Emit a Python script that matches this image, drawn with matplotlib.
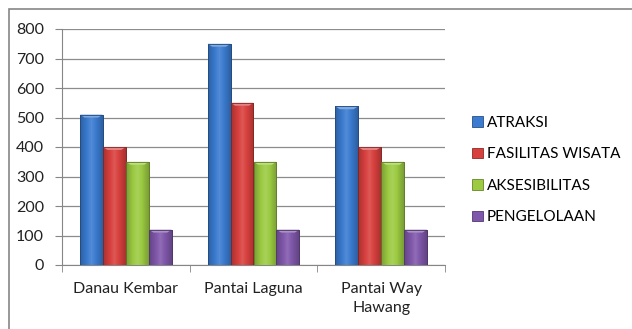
import numpy as np
import matplotlib.pyplot as plt
from matplotlib.patches import Rectangle
from matplotlib.colors import to_rgb

plt.rcParams['font.family'] = ['Lato', 'DejaVu Sans']

places = ["Danau Kembar", "Pantai Laguna", "Pantai Way\nHawang"]
series = ["ATRAKSI", "FASILITAS WISATA", "AKSESIBILITAS", "PENGELOLAAN"]
atraksi = [510, 750, 538]
fasilitas = [400, 550, 400]
aksesibilitas = [350, 350, 350]
pengelolaan = [120, 120, 120]
y_ticks = [0, 100, 200, 300, 400, 500, 600, 700, 800]

colors = ['#3b7bd0', '#d8403e', '#9ccb42', '#8058ab']
values = [atraksi, fasilitas, aksesibilitas, pengelolaan]


def shade(c, f):
    r = np.array(to_rgb(c))
    if f < 0:
        return tuple(r * (1 + f))
    return tuple(r + (1 - r) * f)


fig = plt.figure(figsize=(6.32, 3.29), dpi=100)
ax = fig.add_axes([62 / 632, 1 - 265 / 329, (445 - 62) / 632, (265 - 29) / 329])

# outer chart border
fig.patches.append(Rectangle((9 / 632, -0.2), 1.2, 1.2 - 9 / 329,
                             transform=fig.transFigure, fill=False,
                             edgecolor='#868686', linewidth=1.2))

x = np.arange(len(places))
w = 0.18
ax.set_xlim(-0.5, 2.5)
ax.set_ylim(0, 800)

grad = np.concatenate([np.linspace(-0.22, 0.12, 30), np.linspace(0.12, -0.22, 30)])
for i, (vals, c) in enumerate(zip(values, colors)):
    pos = x + (i - 1.5) * w
    bars = ax.bar(pos, vals, w, color=c, edgecolor=shade(c, -0.35),
                  linewidth=0.6, label=series[i], zorder=3)
    for b in bars:
        img = np.array([[shade(c, g) for g in grad]])
        bx, by = b.get_x(), b.get_y()
        im = ax.imshow(img, extent=[bx, bx + b.get_width(), by, by + b.get_height()],
                       aspect='auto', zorder=3.5, interpolation='bilinear')
        im.set_clip_path(b)
        # top bevel
        top = b.get_height()
        ax.fill([bx, bx + b.get_width(), bx + b.get_width() * 0.8, bx + b.get_width() * 0.2],
                [top, top, top - 10, top - 10], color=shade(c, 0.35), zorder=4, lw=0)
        ax.add_patch(Rectangle((bx, 0), b.get_width(), top, fill=False,
                               edgecolor=shade(c, -0.4), lw=0.6, zorder=4.5))

ax.set_yticks(y_ticks)
ax.yaxis.grid(True, color='#8c8c8c', linewidth=0.9, zorder=0)
ax.set_axisbelow(True)
ax.set_xticks(x)
ax.set_xticklabels(places, fontsize=11.5, color='#222222', linespacing=1.45)
ax.set_xticks([-0.5, 0.5, 1.5, 2.5], minor=True)
ax.tick_params(axis='x', which='major', length=0, pad=12)
ax.tick_params(axis='x', which='minor', length=5, color='#868686', direction='out')
ax.tick_params(axis='y', length=5, color='#868686', labelsize=11.5, labelcolor='#222222', pad=8)
for s in ['top', 'right']:
    ax.spines[s].set_visible(False)
ax.spines['left'].set_color('#868686')
ax.spines['bottom'].set_color('#868686')

handles = [Rectangle((0, 0), 1, 1, facecolor=c, edgecolor=shade(c, -0.35), lw=0.6) for c in colors]
leg = fig.legend(handles, series, loc='center left', bbox_to_anchor=(472 / 632, 1 - 170 / 329),
                 frameon=False, fontsize=11, handlelength=0.7, handleheight=0.7,
                 handletextpad=0.25, labelspacing=1.15, borderaxespad=0, borderpad=0)

fig.savefig('out.png', dpi=100)
